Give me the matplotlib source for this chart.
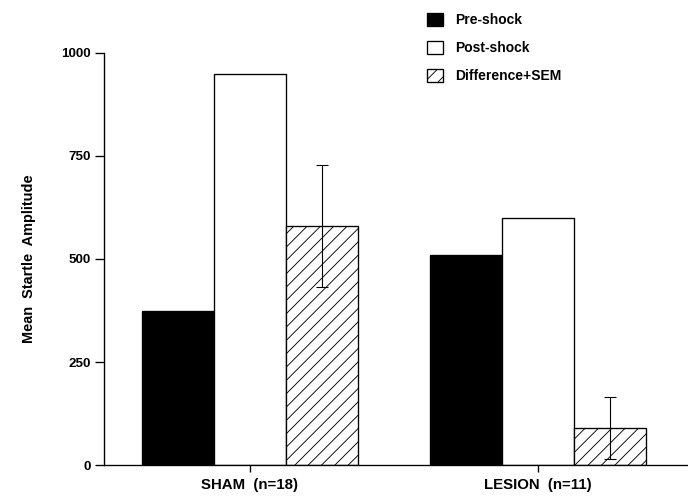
import matplotlib
matplotlib.use("Agg")
import matplotlib.pyplot as plt
import numpy as np

groups = ["SHAM  (n=18)", "LESION  (n=11)"]
pre_shock = [375, 510]
post_shock = [950, 600]
difference = [580, 90]
diff_sem = [147, 75]

plt.rcParams['font.family'] = ['Liberation Sans', 'DejaVu Sans']
plt.rcParams['hatch.linewidth'] = 0.8

fig = plt.figure(figsize=(8.6, 6.2375), dpi=80)
ax = fig.add_axes([0.151, 0.068, 0.849, 0.826])

x = np.arange(len(groups))
w = 0.25
b1 = ax.bar(x - w, pre_shock, w, color='black', edgecolor='black', linewidth=1.2, label='Pre-shock')
b2 = ax.bar(x, post_shock, w, color='white', edgecolor='black', linewidth=1.2, label='Post-shock')
b3 = ax.bar(x + w, difference, w, color='white', edgecolor='black', linewidth=1.2,
            hatch='//', label='Difference+SEM')
ax.errorbar(x + w, difference, yerr=diff_sem, fmt='none', ecolor='black',
            elinewidth=1.0, capsize=5, capthick=1.0)

ax.set_xlim(-0.507, 1.521)
ax.set_ylim(0, 1000)
ax.set_yticks([0, 250, 500, 750, 1000])
ax.set_xticks(x)
ax.set_xticklabels(groups, fontsize=13.5, fontweight='bold')
ax.tick_params(axis='y', direction='out', length=8, width=1.2, labelsize=12, pad=4)
ax.tick_params(axis='x', direction='out', length=6, width=1.2, pad=6)
for lab in ax.get_yticklabels():
    lab.set_fontweight('bold')

ax.spines['top'].set_visible(False)
ax.spines['right'].set_visible(False)
ax.spines['left'].set_linewidth(1.2)
ax.spines['bottom'].set_linewidth(1.2)
ax.set_ylabel('Mean  Startle  Amplitude', fontsize=13, fontweight='bold', labelpad=22)

fig.legend(handles=[b1, b2, b3], loc='upper left', bbox_to_anchor=(0.603, 1.0),
           frameon=False, handlelength=1.1, handleheight=1.1, handletextpad=0.9,
           labelspacing=1.0, prop={'size': 12.5, 'weight': 'bold'})

fig.savefig('out.png', dpi=80)
